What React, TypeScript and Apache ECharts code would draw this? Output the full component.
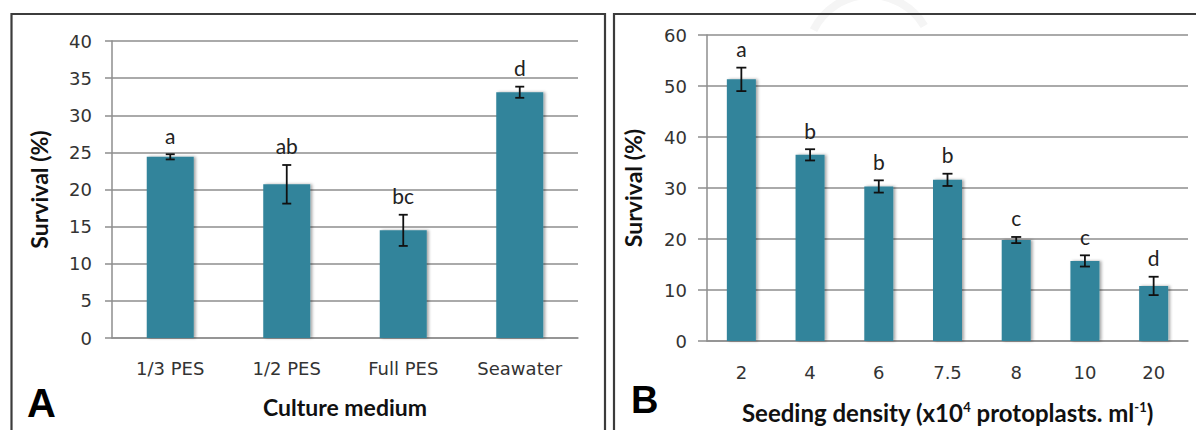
import React, { useEffect, useRef } from "react";
import * as echarts from "echarts";

// Panel A: survival by culture medium
const mediumCategories = ["1/3 PES", "1/2 PES", "Full PES", "Seawater"];
const mediumSurvival = [24.4, 20.7, 14.5, 33.1];
const mediumError = [0.35, 2.6, 2.1, 0.75];
const mediumLetters = ["a", "ab", "bc", "d"];
const mediumTicks = { min: 0, max: 40, interval: 5 };

// Panel B: survival by seeding density
const densityCategories = ["2", "4", "6", "7.5", "8", "10", "20"];
const densitySurvival = [51.3, 36.5, 30.3, 31.6, 19.8, 15.7, 10.8];
const densityError = [2.3, 1.1, 1.2, 1.2, 0.6, 1.1, 1.8];
const densityLetters = ["a", "b", "b", "b", "c", "c", "d"];
const densityTicks = { min: 0, max: 60, interval: 10 };

const BAR_COLOR = "#31849b";
const GRID_COLOR = "#8e8e8e";
const TICK_FONT = "'DejaVu Sans', Verdana, sans-serif";
const TITLE_FONT = "Lato, 'Open Sans', sans-serif";

function errorSeries(
  axisIndex: number,
  means: number[],
  errs: number[],
  letters: string[],
  capHalf: number
) {
  return {
    type: "custom",
    xAxisIndex: axisIndex,
    yAxisIndex: axisIndex,
    silent: true,
    z: 5,
    data: means.map((m, i) => [i, m, errs[i]]),
    renderItem: (params: any, api: any) => {
      const i = api.value(0);
      const m = api.value(1);
      const e = api.value(2);
      const top = api.coord([i, m + e]);
      const bot = api.coord([i, m - e]);
      const stroke = { stroke: "#111", lineWidth: 1.8 };
      return {
        type: "group",
        children: [
          { type: "line", shape: { x1: top[0], y1: top[1], x2: bot[0], y2: bot[1] }, style: stroke },
          { type: "line", shape: { x1: top[0] - capHalf, y1: top[1], x2: top[0] + capHalf, y2: top[1] }, style: stroke },
          { type: "line", shape: { x1: bot[0] - capHalf, y1: bot[1], x2: bot[0] + capHalf, y2: bot[1] }, style: stroke },
          {
            type: "text",
            x: top[0],
            y: top[1] - 19,
            style: {
              text: letters[params.dataIndex],
              align: "center",
              verticalAlign: "middle",
              textAlign: "center",
              textVerticalAlign: "middle",
              fontSize: 21,
              fontFamily: TITLE_FONT,
              fill: "#222",
            },
          },
        ],
      };
    },
  };
}

function valueAxis(
  gridIndex: number,
  ticks: { min: number; max: number; interval: number },
  fontSize: number,
  tickLen: number,
  nameGap: number
) {
  return {
    type: "value",
    gridIndex,
    min: ticks.min,
    max: ticks.max,
    interval: ticks.interval,
    name: "Survival (%)",
    nameLocation: "middle",
    nameGap,
    nameRotate: 90,
    nameTextStyle: { fontFamily: TITLE_FONT, fontWeight: "bold", fontSize: 23, color: "#111" },
    axisLine: { show: true, lineStyle: { color: GRID_COLOR, width: 1.5 } },
    axisTick: { show: true, length: tickLen, lineStyle: { color: GRID_COLOR, width: 1.5 } },
    axisLabel: { margin: 20, fontFamily: TICK_FONT, fontSize, color: "#333" },
    splitLine: { show: true, lineStyle: { color: GRID_COLOR, width: 1.5 } },
  };
}

export default function App() {
  const ref = useRef<HTMLDivElement>(null);

  useEffect(() => {
    if (!ref.current) return;
    const chart = echarts.init(ref.current, null, { renderer: "svg" });

    const barStyle = {
      color: BAR_COLOR,
      shadowColor: "rgba(0,0,0,0.35)",
      shadowBlur: 3,
      shadowOffsetX: 2,
      shadowOffsetY: 0,
    };

    chart.setOption({
      animation: false,
      backgroundColor: "#ffffff",
      grid: [
        { left: 112, right: 618, top: 41, bottom: 92, outerBoundsMode: "none", containLabel: false },
        { left: 707, right: 8, top: 35, bottom: 89, outerBoundsMode: "none", containLabel: false },
      ],
      xAxis: [
        {
          type: "category",
          gridIndex: 0,
          data: mediumCategories,
          name: "Culture medium",
          nameLocation: "middle",
          nameGap: 57,
          nameTextStyle: { fontFamily: TITLE_FONT, fontWeight: "bold", fontSize: 23, color: "#111" },
          axisLine: { lineStyle: { color: GRID_COLOR, width: 1.5 } },
          axisTick: { length: 8, lineStyle: { color: GRID_COLOR, width: 1.5 } },
          axisLabel: { margin: 21, fontFamily: TICK_FONT, fontSize: 18, color: "#333" },
        },
        {
          type: "category",
          gridIndex: 1,
          data: densityCategories,
          name: "Seeding density (x10{sup|4} protoplasts. ml{sup|-1})",
          nameLocation: "middle",
          nameGap: 59,
          nameTextStyle: {
            fontFamily: TITLE_FONT,
            fontWeight: "bold",
            fontSize: 24,
            color: "#111",
            rich: {
              sup: { fontFamily: TITLE_FONT, fontWeight: "bold", fontSize: 13, color: "#111", padding: [0, 0, 10, 0] },
            },
          },
          axisLine: { lineStyle: { color: GRID_COLOR, width: 1.5 } },
          axisTick: { length: 8, lineStyle: { color: GRID_COLOR, width: 1.5 } },
          axisLabel: { margin: 22, fontFamily: TICK_FONT, fontSize: 18, color: "#333" },
        },
      ],
      yAxis: [valueAxis(0, mediumTicks, 18, 7, 62), valueAxis(1, densityTicks, 18, 9, 63)],
      series: [
        {
          type: "bar",
          xAxisIndex: 0,
          yAxisIndex: 0,
          data: mediumSurvival,
          barWidth: 47,
          itemStyle: barStyle,
        },
        {
          type: "bar",
          xAxisIndex: 1,
          yAxisIndex: 1,
          data: densitySurvival,
          barWidth: 29,
          itemStyle: barStyle,
        },
        errorSeries(0, mediumSurvival, mediumError, mediumLetters, 4.5),
        errorSeries(1, densitySurvival, densityError, densityLetters, 5),
      ],
      graphic: [
        {
          type: "arc",
          silent: true,
          z: -1,
          shape: { cx: 870, cy: 58, r: 63, startAngle: 3.6, endAngle: 5.75 },
          style: { stroke: "#f5f5f5", lineWidth: 8, fill: "none" },
        },
        {
          type: "rect",
          silent: true,
          shape: { x: 11.5, y: 14, width: 593.5, height: 440 },
          style: { fill: "none", stroke: "#3c3c3c", lineWidth: 2.2 },
        },
        {
          type: "rect",
          silent: true,
          shape: { x: 614, y: 14, width: 620, height: 440 },
          style: { fill: "none", stroke: "#3c3c3c", lineWidth: 2.2 },
        },
        {
          type: "text",
          left: 27,
          top: 383,
          style: { text: "A", fontFamily: "'Liberation Sans', Arial, sans-serif", fontWeight: "bold", fontSize: 40, fill: "#000" },
        },
        {
          type: "text",
          left: 631,
          top: 381,
          style: { text: "B", fontFamily: "'Liberation Sans', Arial, sans-serif", fontWeight: "bold", fontSize: 38, fill: "#000" },
        },
      ],
    });

    return () => chart.dispose();
  }, []);

  return (
    <div
      ref={ref}
      style={{ position: "fixed", left: 0, top: 0, width: 1196, height: 430, background: "#fff" }}
    />
  );
}
